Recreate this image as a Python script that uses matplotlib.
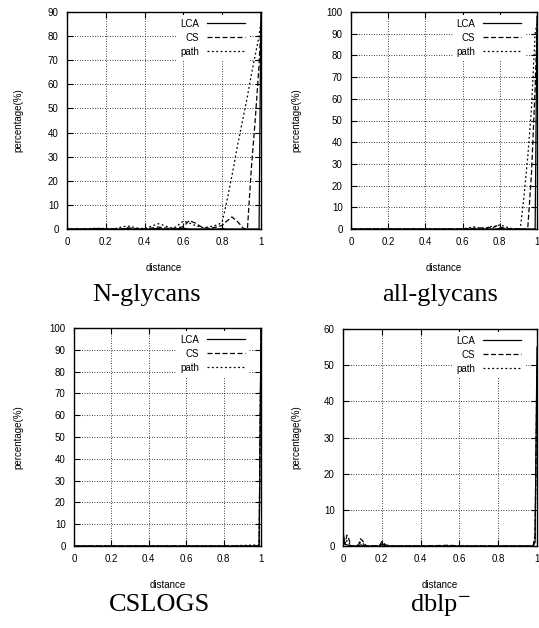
import matplotlib
matplotlib.use('Agg')
import matplotlib.pyplot as plt

plt.rcParams['font.family'] = ['Liberation Sans', 'DejaVu Sans']
plt.rcParams['mathtext.fontset'] = 'stix'

# N-glycans
ng_x = [0, 0.05, 0.1, 0.15, 0.2, 0.25, 0.28, 0.31, 0.34, 0.37, 0.4, 0.43, 0.47, 0.5, 0.53,
        0.56, 0.6, 0.63, 0.66, 0.7, 0.74, 0.78, 0.8, 0.82, 0.85, 0.88, 0.91, 0.93, 0.95, 0.97, 0.99, 1.0]
ng_lca = [0, 0, 0, 0.2, 0, 0, 0, 0.2, 0, 0, 0, 0, 0.2, 0, 0,
          0, 0.3, 0, 0, 0, 0, 0, 0.2, 0, 0, 0, 0, 0, 0, 0, 0, 95]
ng_cs = [0, 0, 0, 0.2, 0, 0, 0, 0.5, 0.3, 0, 0, 0.3, 0.8, 0.5, 0.2,
         0.3, 1.0, 3.5, 2.5, 0.5, 0.3, 1.0, 1.5, 3.0, 5.0, 3.0, 0.2, 0, 25, 45, 68, 85]
ng_path = [0, 0, 0, 0.3, 0.2, 0.2, 0.8, 1.3, 0.8, 0.3, 0.2, 1.0, 2.2, 1.5, 0.5,
           0.8, 3.3, 2.5, 1.5, 0.5, 1.0, 1.8, 3.0, 10, 22, 35, 47, 55, 64, 72, 80, 86]

# all-glycans
ag_x = [0, 0.1, 0.2, 0.3, 0.4, 0.5, 0.6, 0.66, 0.7, 0.72, 0.74, 0.76, 0.78, 0.8, 0.83,
        0.86, 0.91, 0.93, 0.95, 0.97, 0.99, 1.0]
ag_lca = [0, 0, 0, 0, 0, 0, 0, 0, 0, 0, 0, 0, 0, 0.3, 0,
          0, 0, 0, 0, 0, 0, 98]
ag_cs = [0, 0, 0, 0, 0, 0, 0, 0.3, 0.5, 0.2, 0.8, 0.4, 1.5, 0.8, 0.3,
         0, 0, 0, 0, 25, 65, 92]
ag_path = [0, 0, 0, 0, 0, 0, 0, 1.0, 0.3, 0.6, 0.4, 1.5, 1.0, 2.0, 1.0,
           0.3, 0, 15, 33, 55, 90, 95]

# CSLOGS
cl_x = [0, 0.2, 0.4, 0.6, 0.8, 0.99, 1.0]
cl_lca = [0, 0, 0, 0, 0, 0, 100]
cl_cs = [0, 0, 0, 0, 0, 0, 100]
cl_path = [0, 0, 0, 0, 0, 0.5, 100]

# dblp-
db_x = [0, 0.01, 0.02, 0.03, 0.04, 0.06, 0.08, 0.09, 0.1, 0.12, 0.15, 0.19, 0.2, 0.22,
        0.25, 0.4, 0.55, 0.6, 0.8, 0.98, 0.99, 1.0]
db_lca = [4.0, 0.5, 0.3, 0.2, 0, 0, 0, 0.3, 0.2, 0, 0, 0, 0.5, 0, 0, 0, 0, 0, 0, 0, 1.0, 55]
db_cs = [1.0, 0.5, 3.0, 2.0, 0, 0, 0.3, 2.0, 1.5, 0, 0, 0.2, 1.2, 0.3, 0, 0, 0.2, 0, 0, 0, 3.0, 50]
db_path = [0.5, 0.8, 1.5, 1.0, 0, 0, 0.2, 1.0, 0.8, 0, 0, 0.2, 0.6, 0.2, 0, 0, 0, 0, 0, 0, 2.0, 45]

panels = [
    ('N-glycans', ng_x, ng_lca, ng_cs, ng_path, 90,
     [67, 12, 261, 229], 18, 147),
    ('all-glycans', ag_x, ag_lca, ag_cs, ag_path, 100,
     [351, 12, 537, 229], 296, 440),
    ('CSLOGS', cl_x, cl_lca, cl_cs, cl_path, 100,
     [74, 328, 261, 546], 18, 160),
    ('dblp$^{-}$', db_x, db_lca, db_cs, db_path, 60,
     [343, 329, 537, 546], 296, 440),
]

W, H = 539, 628
fig = plt.figure(figsize=(W / 100, H / 100), dpi=100)

for name, x, lca, cs, path, ymax, box, ylab_x, title_x in panels:
    l, t, r, b = box
    ax = fig.add_axes([l / W, 1 - b / H, (r - l) / W, (b - t) / H])
    ax.plot(x, lca, color='black', linestyle='-', linewidth=0.9, label='LCA')
    ax.plot(x, cs, color='black', linestyle=(0, (4, 2)), linewidth=0.9, label='CS')
    ax.plot(x, path, color='black', linestyle=(0, (1.5, 2)), linewidth=0.9, label='path')
    ax.set_xlim(0, 1)
    ax.set_ylim(0, ymax)
    ax.set_xticks([0, 0.2, 0.4, 0.6, 0.8, 1])
    ax.set_xticklabels(['0', '0.2', '0.4', '0.6', '0.8', '1'])
    ax.set_yticks(range(0, ymax + 1, 10))
    ax.tick_params(direction='in', top=True, right=True, length=4, width=0.8,
                   labelsize=7, pad=6)
    ax.grid(True, color='black', linestyle=(0, (1, 2)), linewidth=0.6)
    for s in ax.spines.values():
        s.set_linewidth(1.0)
    # legend box: right edge ~12 px and top ~3 px inside the axes
    w_px, h_px = r - l, b - t
    leg = ax.legend(loc='upper right', bbox_to_anchor=(1 - 12 / w_px, 1 - 3 / h_px),
                    markerfirst=False, frameon=True, fancybox=False,
                    edgecolor='white', framealpha=1, fontsize=7, handlelength=3.9,
                    handletextpad=0.8, labelspacing=0.4, borderpad=0.4,
                    borderaxespad=0)
    leg.get_frame().set_linewidth(0)
    ax.set_xlabel('distance', fontsize=7, labelpad=11)
    cy = (t + b) / 2
    fig.text(ylab_x / W, 1 - cy / H, 'percentage(%)', fontsize=7, rotation=90,
             ha='center', va='center')
    ty = 295 if t < 300 else 605
    fig.text(title_x / W, 1 - ty / H, name, fontsize=19, family='Liberation Serif',
             ha='center', va='center')

fig.savefig('out.png', dpi=100)
